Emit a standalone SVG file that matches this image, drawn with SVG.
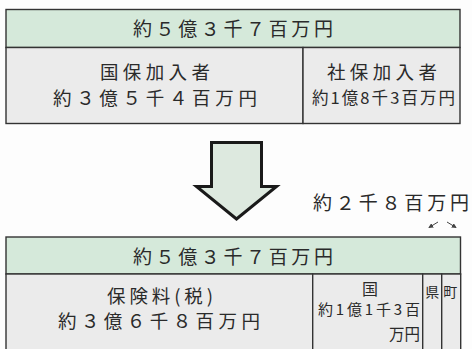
<svg xmlns="http://www.w3.org/2000/svg" width="472" height="349" viewBox="0 0 472 349">
<defs>
<style>
.hdr{fill:#d5e9da;stroke:#333;stroke-width:1.4}
.cell{fill:#ebebeb;stroke:#333;stroke-width:1.4}
.t{font-family:"Noto Sans CJK JP","Noto Sans CJK SC",sans-serif;fill:#2a2a2a}
.sm{stroke:#444;stroke-width:1;fill:none}
</style>
<marker id="ah" viewBox="0 0 6 6" refX="5" refY="3" markerWidth="5" markerHeight="5" orient="auto">
<path d="M0,0 L6,3 L0,6 z" fill="#444"/>
</marker>
</defs>
<rect width="472" height="349" fill="#fdfdfd"/>
<g id="top-total">
<rect class="hdr" x="6" y="9.5" width="454" height="38"/>
<text class="t" x="133" y="36" font-size="19" textLength="200" lengthAdjust="spacing">約５億３千７百万円</text>
</g>
<g id="top-kokuho">
<rect class="cell" x="6" y="47.5" width="297" height="76"/>
<text class="t" x="100" y="79" font-size="18.5" textLength="110" lengthAdjust="spacing">国保加入者</text>
<text class="t" x="53" y="105" font-size="18.5" textLength="204" lengthAdjust="spacing">約３億５千４百万円</text>
</g>
<g id="top-shaho">
<rect class="cell" x="303" y="47.5" width="157" height="76"/>
<text class="t" x="327" y="79" font-size="18.5" textLength="110" lengthAdjust="spacing">社保加入者</text>
<text class="t" x="312" y="104" font-size="16.5" textLength="143" lengthAdjust="spacing">約1億8千3百万円</text>
</g>
<g id="big-arrow">
<path d="M211.5,142.5 H261.5 V186.5 H276.5 L236.5,219 L196.5,186.5 H211.5 Z" fill="#dde9df" stroke="#1a1a1a" stroke-width="3" stroke-linejoin="miter"/>
</g>
<g id="label-2sen8hyaku">
<text class="t" x="313" y="210" font-size="19" textLength="156" lengthAdjust="spacing">約２千８百万円</text>
</g>
<g id="connectors">
<line class="sm" x1="438" y1="222" x2="429" y2="227.5" marker-end="url(#ah)"/>
<line class="sm" x1="447" y1="222" x2="456" y2="227.5" marker-end="url(#ah)"/>
</g>
<g id="bottom-total">
<rect class="hdr" x="6" y="237" width="454.5" height="37"/>
<text class="t" x="133" y="264" font-size="19" textLength="200" lengthAdjust="spacing">約５億３千７百万円</text>
</g>
<g id="bottom-hokenryo">
<rect class="cell" x="6" y="274" width="306.7" height="80"/>
<text class="t" x="107" y="303" font-size="18.5" textLength="106" lengthAdjust="spacing">保険料(税)</text>
<text class="t" x="58" y="328" font-size="18.5" textLength="202" lengthAdjust="spacing">約３億６千８百万円</text>
</g>
<g id="bottom-kuni">
<rect class="cell" x="312.7" y="274" width="110" height="80"/>
<text class="t" x="370" y="295" font-size="16" text-anchor="middle">国</text>
<text class="t" x="318" y="315" font-size="15" textLength="102" lengthAdjust="spacing">約1億1千3百</text>
<text class="t" x="420" y="340" font-size="15.5" text-anchor="end">万円</text>
</g>
<g id="bottom-ken">
<rect class="cell" x="422.7" y="274" width="19" height="80"/>
<text class="t" x="432.2" y="297" font-size="14" text-anchor="middle">県</text>
</g>
<g id="bottom-machi">
<rect class="cell" x="441.7" y="274" width="19" height="80"/>
<text class="t" x="450.2" y="297" font-size="14" text-anchor="middle">町</text>
</g>
</svg>
